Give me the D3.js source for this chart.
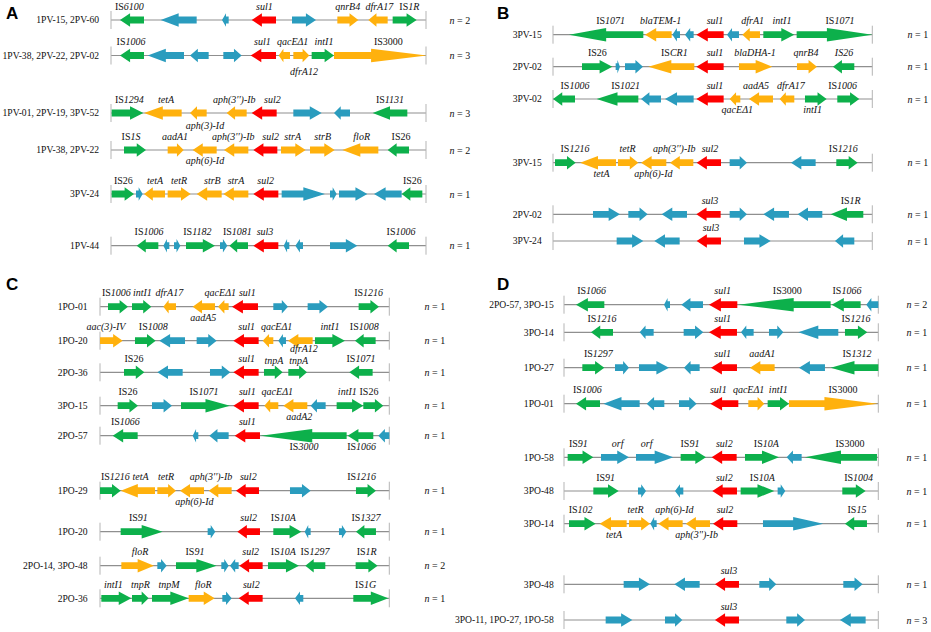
<!DOCTYPE html>
<html><head><meta charset="utf-8">
<script src="https://cdn.jsdelivr.net/npm/d3@7/dist/d3.min.js"></script>
<style>html,body{margin:0;padding:0;background:#fff}svg{display:block}text{font-family:"Liberation Serif",serif;fill:#111}</style>
</head><body><svg id="c" width="931" height="632"></svg>
<script>
// Genes: [tail, tip, family] along the map coordinate; tip < tail means reverse strand.
// Labels: [text, map coordinate, lane] ; lane absent = above the line, lane > 0 = below, lane < 0 = custom height above.
const familyColors = {g:"#0DB04B", b:"#2A9CBE", o:"#FFB10D", r:"#FE0000"};

const panelARows = [
 {name:"1PV-15, 2PV-60", n:"n = 2",
  genes:[[99,27,"g"],[257,149,"b"],[353,333,"b"],[495,422,"r"],[543,615,"b"],[679,742,"o"],[830,772,"o"],[845,917,"g"]],
  labels:[["IS|6100",55],["sul1",460],["qnrB4",710],["dfrA17",805],["IS|1R",895]]},
 {name:"1PV-38, 2PV-22, 2PV-02", n:"n = 3",
  genes:[[99,27,"g"],[219,110,"b"],[293,237,"b"],[337,392,"b"],[495,419,"r"],[537,503,"o"],[547,595,"o"],[602,669,"g"],[669,947,"o"]],
  labels:[["IS|1006",60],["sul1",454],["qacEΔ1",545],["intI1",639],["IS3000",832],["dfrA12",579,1.4]]},
 {name:"1PV-01, 2PV-19, 3PV-52", n:"n = 3",
  genes:[[2,97,"g"],[212,99,"o"],[287,237,"o"],[407,347,"o"],[497,422,"r"],[547,632,"b"],[717,669,"b"],[889,785,"g"]],
  labels:[["IS|1294",55],["tetA",165],["aph(3'')-Ib",370],["sul2",484],["IS|1131",837],["aph(3)-Id",282,1.15]]},
 {name:"1PV-38, 2PV-22", n:"n = 2",
  genes:[[39,105,"g"],[170,218,"o"],[317,245,"o"],[412,339,"o"],[499,427,"r"],[510,584,"o"],[597,671,"o"],[802,694,"o"],[894,830,"g"]],
  labels:[["IS|1S",60],["aadA1",192],["aph(3'')-Ib",367],["sul2",479],["strA",545],["strB",635],["floR",752],["IS26",870],["aph(6)-Id",282,1]]},
 {name:"3PV-24", n:"n = 1",
  genes:[[2,69,"g"],[75,95,"b"],[162,99,"o"],[170,239,"o"],[332,257,"o"],[412,337,"o"],[502,427,"r"],[512,642,"b"],[657,677,"b"],[684,769,"b"],[872,789,"b"],[934,872,"g"]],
  labels:[["IS26",37],["tetA",132],["tetR",204],["strB",304],["strA",375],["sul2",464],["IS26",904]]},
 {name:"1PV-44", n:"n = 1",
  genes:[[142,77,"g"],[175,157,"b"],[189,208,"b"],[225,312,"g"],[327,349,"b"],[411,355,"g"],[502,427,"r"],[535,518,"b"],[576,553,"b"],[657,739,"b"],[894,830,"g"]],
  labels:[["IS|1006",114],["IS|1182",259],["IS|1081",379],["sul3",462],["IS|1006",870]]}
];
const panelBRows = [
 {name:"3PV-15", n:"n = 1",
  genes:[[271,48,"g"],[356,276,"o"],[381,358,"b"],[422,396,"b"],[512,430,"r"],[558,522,"b"],[621,568,"o"],[631,724,"g"],[731,958,"g"]],
  labels:[["IS|1071",173],["blaTEM-1",323],["sul1",486],["dfrA1",599],["intI1",687],["IS|1071",861]]},
 {name:"2PV-02", n:"n = 1",
  genes:[[87,178,"g"],[188,201,"b"],[216,270,"b"],[424,286,"o"],[512,430,"r"],[558,658,"o"],[732,792,"o"],[904,840,"g"]],
  labels:[["IS26",133],["IS|CR1",364],["sul1",486],["blaDHA-1",606],["qnrB4",759],["~IS26",873]]},
 {name:"3PV-02", n:"n = 1",
  genes:[[66,0,"g"],[256,131,"g"],[324,264,"b"],[422,336,"b"],[512,430,"r"],[562,530,"o"],[660,588,"o"],[724,680,"o"],[756,821,"g"],[853,919,"g"]],
  labels:[["IS|1006",66],["IS|1021",218],["sul1",486],["aadA5",609],["dfrA17",714],["IS|1006",869],["qacEΔ1",553,1],["intI1",779,1]]},
 {name:"3PV-15", n:"n = 1",
  genes:[[6,68,"g"],[189,81,"o"],[195,256,"o"],[340,264,"o"],[421,351,"o"],[504,431,"r"],[530,582,"b"],[788,714,"b"],[850,914,"g"]],
  labels:[["IS|1216",66],["tetR",224],["aph(3'')-Ib",364],["sul2",471],["IS|1216",871],["tetA",146,1],["aph(6)-Id",301,1]]},
 {name:"2PV-02", n:"n = 1",
  genes:[[120,201,"b"],[226,284,"b"],[402,326,"b"],[503,430,"r"],[530,582,"b"],[708,631,"b"],[808,734,"b"],[931,833,"g"]],
  labels:[["sul3",471],["IS|1R",893]]},
 {name:"3PV-24", n:"n = 1",
  genes:[[191,271,"b"],[380,304,"b"],[504,431,"r"],[573,653,"b"],[904,846,"b"]],
  labels:[["sul3",474]]}
];
const panelCRows = [
 {name:"1PO-01", n:"n = 1",
  genes:[[24,84,"g"],[96,154,"g"],[228,190,"o"],[345,278,"o"],[386,354,"o"],[474,396,"r"],[520,564,"b"],[623,684,"b"],[776,837,"g"]],
  labels:[["IS|1006",49],["intI1",127],["dfrA17",208],["qacEΔ1",361],["sul1",442],["IS|1216",806],["aadA5",310,1]]},
 {name:"1PO-20", n:"n = 1",
  genes:[[0,68,"o"],[105,167,"g"],[255,178,"b"],[290,350,"b"],[476,400,"r"],[520,488,"o"],[558,535,"b"],[638,564,"o"],[645,735,"g"],[827,765,"g"]],
  labels:[["aac(3)-IV",18],["IS|1008",160],["sul1",440],["qacEΔ1",530],["intI1",690],["IS|1008",793],["dfrA12",612,0.82]]},
 {name:"2PO-36", n:"n = 1",
  genes:[[72,133,"g"],[248,172,"b"],[330,391,"b"],[476,400,"r"],[492,548,"g"],[565,621,"g"],[818,748,"g"]],
  labels:[["IS26",102],["sul1",440],["tnpA",522,-0.6],["tnpA",596,-0.6],["IS|1071",783]]},
 {name:"3PO-15", n:"n = 1",
  genes:[[53,114,"g"],[156,216,"b"],[243,390,"g"],[476,400,"r"],[535,493,"o"],[622,550,"o"],[677,632,"b"],[710,790,"g"],[790,850,"g"]],
  labels:[["IS26",84],["IS|1071",312],["sul1",442],["qacEΔ1",532],["intI1",742],["IS26",807],["aadA2",598,1]]},
 {name:"2PO-57", n:"n = 1",
  genes:[[113,38,"g"],[295,278,"b"],[386,328,"b"],[480,404,"r"],[740,482,"g"],[820,743,"g"],[868,835,"b"]],
  labels:[["IS|1066",76],["sul1",442],["IS|3000",612,1],["IS|1066",785,1]]},
 {name:"1PO-29", n:"n = 1",
  genes:[[0,62,"g"],[165,62,"o"],[172,228,"o"],[312,240,"o"],[395,326,"o"],[477,408,"r"],[570,632,"b"],[768,828,"g"]],
  labels:[["IS|1216",46],["tetA",122],["tetR",198],["aph(3'')-Ib",333],["sul2",445],["IS|1216",785],["aph(6)-Id",283,1]]},
 {name:"1PO-20", n:"n = 1",
  genes:[[62,188,"g"],[323,346,"b"],[480,412,"r"],[520,604,"g"],[632,614,"b"],[717,739,"b"],[828,768,"g"]],
  labels:[["IS|91",115],["sul2",446],["IS|10A",550],["IS|1327",798]]},
 {name:"2PO-14, 3PO-48", n:"n = 2",
  genes:[[64,162,"o"],[172,200,"b"],[228,350,"g"],[364,386,"b"],[416,390,"b"],[488,418,"r"],[504,597,"g"],[676,616,"g"],[767,833,"g"]],
  labels:[["floR",120],["IS|91",285],["sul2",452],["IS|10A",550],["IS|1297",645],["IS|1R",800]]},
 {name:"2PO-36", n:"n = 1",
  genes:[[4,94,"g"],[96,146,"g"],[156,266,"g"],[266,344,"o"],[367,395,"b"],[488,416,"r"],[610,585,"b"],[760,865,"g"]],
  labels:[["intI1",40],["tnpR",121],["tnpM",207],["floR",310],["sul2",454],["IS|1G",797]]}
];
const panelDRows = [
 {name:"2PO-57, 3PO-15", n:"n = 2",
  genes:[[121,36,"g"],[318,300,"b"],[417,352,"b"],[520,435,"r"],[800,523,"g"],[890,803,"g"],[943,907,"b"]],
  labels:[["IS|1066",83],["sul1",476],["IS3000",670],["IS|1066",849]]},
 {name:"3PO-14", n:"n = 1",
  genes:[[147,81,"g"],[269,227,"b"],[359,418,"b"],[519,435,"r"],[569,531,"b"],[615,658,"b"],[823,703,"b"],[843,910,"g"]],
  labels:[["IS|1216",114],["sul1",476],["IS|1216",876]]},
 {name:"1PO-27", n:"n = 1",
  genes:[[55,121,"g"],[153,195,"b"],[225,315,"b"],[407,360,"b"],[519,441,"r"],[632,558,"o"],[783,705,"b"],[943,800,"g"]],
  labels:[["IS|1297",103],["sul1",476],["aadA1",595],["IS|1312",879]]},
 {name:"1PO-01", n:"n = 1",
  genes:[[108,36,"g"],[227,118,"b"],[301,248,"b"],[345,398,"b"],[523,439,"r"],[553,601,"o"],[611,675,"g"],[675,941,"o"]],
  labels:[["IS|1006",70],["sul1",463],["qacEΔ1",554],["intI1",643],["IS3000",837]]},
 {name:"1PO-58", n:"n = 1",
  genes:[[11,88,"g"],[111,195,"b"],[216,328,"b"],[350,426,"g"],[518,443,"r"],[543,645,"g"],[713,668,"b"],[939,723,"g"]],
  labels:[["IS|91",43],["orf",161],["orf",248],["IS|91",378],["sul2",481],["IS|10A",607],["IS3000",858]]},
 {name:"3PO-48", n:"n = 1",
  genes:[[88,164,"g"],[222,246,"b"],[358,333,"b"],[519,445,"r"],[530,631,"g"],[641,664,"b"],[835,905,"g"]],
  labels:[["IS|91",125],["sul2",481],["IS|10A",595],["IS|1004",884]]},
 {name:"3PO-14", n:"n = 1",
  genes:[[15,95,"g"],[188,107,"o"],[195,258,"o"],[278,259,"b"],[356,283,"o"],[438,365,"o"],[520,447,"r"],[597,778,"b"],[909,843,"g"]],
  labels:[["IS|102",50],["tetR",215],["aph(6)-Id",331],["sul2",483],["IS|15",879],["tetA",150,1],["aph(3'')-Ib",398,1]]},
 {name:"3PO-48", n:"n = 1",
  genes:[[179,258,"b"],[407,331,"b"],[525,453,"r"],[586,637,"b"],[838,896,"b"]],
  labels:[["sul3",495]]},
 {name:"3PO-11, 1PO-27, 1PO-58", n:"n = 3",
  genes:[[125,205,"b"],[303,355,"b"],[525,453,"r"],[667,723,"b"],[905,828,"b"]],
  labels:[["sul3",495]]}
];

// ---- layout ----
const layout = [
 {letter:"A",lx:6,ly:19,rows:panelARows,domain:[0,945],range:[111,426],nameX:99,nX:449.5,
  ys:[20,55.5,113,150,194,245.7]},
 {letter:"B",lx:497,ly:19,rows:panelBRows,domain:[0,958],range:[553,872.3],nameX:541.7,nX:907.5,
  ys:[34.7,66.7,99,162.7,214.3,241]},
 {letter:"C",lx:6,ly:290,rows:panelCRows,domain:[0,868],range:[100,389.3],nameX:87.5,nX:424.5,
  ys:[306.7,340.7,372.3,405.7,435.7,490.7,531.7,565.7,598.3]},
 {letter:"D",lx:497,ly:290,rows:panelDRows,domain:[0,943],range:[564,878.3],nameX:553.7,nX:906.5,
  ys:[304.7,332.3,367.7,403.7,457.3,491,523.7,584.3,620]}
];
const svg = d3.select("#c");
const BODY = 3.4, HEAD = 6.7;

function arrowPath(x, y, g){
  const x0 = x(g[0]), x1 = x(g[1]), len = Math.abs(x1-x0), dir = x1>x0?1:-1;
  const f = len>75?0.6: len>32?0.5: len>11?0.42:0.6;
  const nx = x1 - dir*len*f;
  const p = d3.path();
  p.moveTo(x0,y-BODY); p.lineTo(nx,y-BODY); p.lineTo(nx,y-HEAD); p.lineTo(x1,y);
  p.lineTo(nx,y+HEAD); p.lineTo(nx,y+BODY); p.lineTo(x0,y+BODY); p.closePath();
  return p.toString();
}
function writeLabel(sel, s){
  if(s[0]==="~"){ sel.append("tspan").attr("font-style","italic").text(s.slice(1)); return; }
  if(s.includes("|")){ const [a,b]=s.split("|");
    sel.append("tspan").text(a); sel.append("tspan").attr("font-style","italic").text(b); return; }
  sel.append("tspan").attr("font-style",s.startsWith("IS")?"normal":"italic").text(s);
}

layout.forEach(P=>{
  const x = d3.scaleLinear().domain(P.domain).range(P.range);
  const yOf = d3.scaleOrdinal().domain(d3.range(P.rows.length)).range(P.ys);
  svg.append("text").attr("x",P.lx).attr("y",P.ly).text(P.letter)
    .style("font-family","Liberation Sans,sans-serif").style("font-weight","bold").attr("font-size",17).style("fill","#000");
  P.rows.forEach((r,i)=>{
    const y = yOf(i), g = svg.append("g");
    g.append("line").attr("x1",x(P.domain[0])).attr("x2",x(P.domain[1])).attr("y1",y).attr("y2",y).attr("stroke","#8f8f8f").attr("stroke-width",1.2);
    P.domain.forEach(d=>g.append("line").attr("x1",x(d)).attr("x2",x(d)).attr("y1",y-9).attr("y2",y+9).attr("stroke","#b5b5b5").attr("stroke-width",1));
    g.selectAll("path").data(r.genes).join("path").attr("d",d=>arrowPath(x,y,d)).attr("fill",d=>familyColors[d[2]]);
    g.append("text").attr("x",P.nameX).attr("y",y+3.3).attr("text-anchor","end").attr("font-size",9.6).text(r.name);
    const nt = g.append("text").attr("x",P.nX).attr("y",y+3.6).attr("font-size",10);
    nt.append("tspan").attr("font-style","italic").text("n");
    nt.append("tspan").text(r.n.slice(1));
    r.labels.forEach(l=>{
      const ty = l[2] ? y+14*l[2] : y-10.3;
      writeLabel(g.append("text").attr("x",x(l[1])).attr("y",ty).attr("text-anchor","middle").attr("font-size",10), l[0]);
    });
  });
});
</script></body></html>
